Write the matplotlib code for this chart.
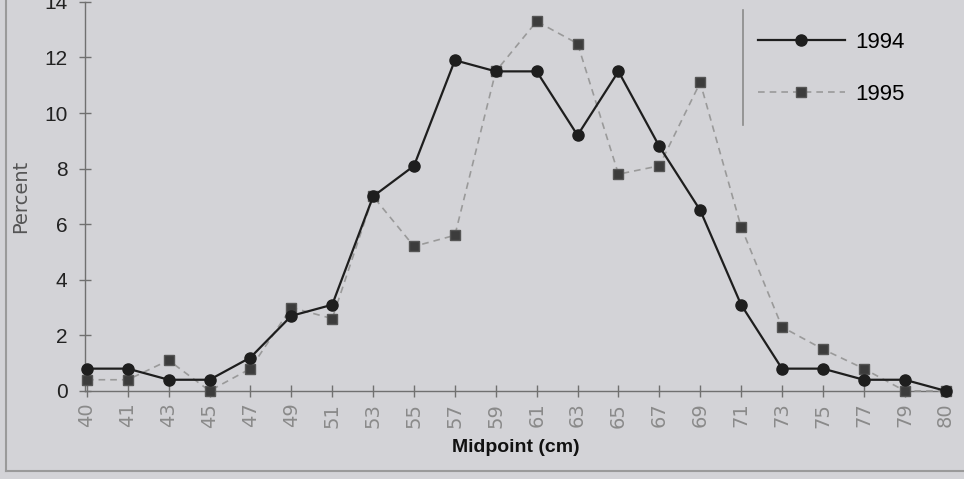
import numpy as np
import matplotlib.pyplot as plt
from matplotlib.lines import Line2D

# --- data ---
midpoints = ['40', '41', '43', '45', '47', '49', '51', '53', '55', '57', '59',
             '61', '63', '65', '67', '69', '71', '73', '75', '77', '79', '80']
pct_1994 = [0.8, 0.8, 0.4, 0.4, 1.2, 2.7, 3.1, 7.0, 8.1, 11.9, 11.5,
            11.5, 9.2, 11.5, 8.8, 6.5, 3.1, 0.8, 0.8, 0.4, 0.4, 0.0]
pct_1995 = [0.4, 0.4, 1.1, 0.0, 0.8, 3.0, 2.6, 7.0, 5.2, 5.6, 11.5,
            13.3, 12.5, 7.8, 8.1, 11.1, 5.9, 2.3, 1.5, 0.8, 0.0, 0.0]
y_ticks = [0, 2, 4, 6, 8, 10, 12, 14]

BG = '#d3d3d7'
narrow = ['Liberation Sans Narrow', 'DejaVu Sans']
sans = ['Liberation Sans', 'DejaVu Sans']

fig = plt.figure(figsize=(9.64, 4.79), dpi=100, facecolor=BG)
ax = fig.add_axes([0.088, 0.184, 0.895, 0.812])
ax.set_facecolor(BG)

x = np.arange(len(midpoints))
ax.plot(x, pct_1995, ls=(0, (4, 3)), color='#9a9a9a', lw=1.2,
        marker='s', ms=7.5, mfc='#3c3c3c', mec='#555555', clip_on=False, zorder=3,
        label='1995')
ax.plot(x, pct_1994, ls='-', color='#1e1e1e', lw=1.6,
        marker='o', ms=8, mfc='#1e1e1e', mec='#1e1e1e', clip_on=False, zorder=4,
        label='1994')

ax.set_xlim(-0.05, len(midpoints) - 0.95)
ax.set_ylim(0, 14)
ax.set_xticks(x)
ax.set_xticklabels(midpoints, rotation=90, family=narrow, fontsize=14,
                   color='#8a8a8a')
ax.set_yticks(y_ticks)
ax.set_yticklabels([str(v) for v in y_ticks], fontsize=15, color='#222222',
                   family=sans)

for s in ['top', 'right']:
    ax.spines[s].set_visible(False)
for s in ['left', 'bottom']:
    ax.spines[s].set_color('#707070')
    ax.spines[s].set_linewidth(1.0)
ax.tick_params(axis='both', direction='inout', length=9, width=1.0,
               color='#707070')
ax.tick_params(axis='x', pad=4)
ax.tick_params(axis='y', pad=8)

ax.set_ylabel('Percent', family=narrow, fontsize=14, color='#555555',
              labelpad=10)
ax.set_xlabel('Midpoint (cm)', fontsize=14, fontweight='bold',
              family=sans, color='#111111', labelpad=8)

handles = [Line2D([], [], color='#1e1e1e', lw=1.6, marker='o', ms=8),
           Line2D([], [], color='#9a9a9a', lw=1.2, ls=(0, (4, 3)), marker='s',
                  ms=7.5, mfc='#3c3c3c', mec='#555555')]
leg = ax.legend(handles, ['1994', '1995'], loc='upper left',
                bbox_to_anchor=(0.757, 0.975), frameon=False, handlelength=3.9,
                labelspacing=1.4, handletextpad=0.5,
                prop={'family': sans, 'size': 16})

# legend box edge and scanned page frame
fig.add_artist(Line2D([743 / 964, 743 / 964], [1 - 10 / 479, 1 - 125 / 479],
                      color='#8a8a8a', lw=1.2))
fig.add_artist(Line2D([6 / 964, 6 / 964], [1, 1 - 471 / 479],
                      color='#9a9a9a', lw=1.5))
fig.add_artist(Line2D([6 / 964, 1], [1 - 471 / 479, 1 - 471 / 479],
                      color='#9a9a9a', lw=1.5))

fig.savefig('out.png', dpi=100, facecolor=BG)
